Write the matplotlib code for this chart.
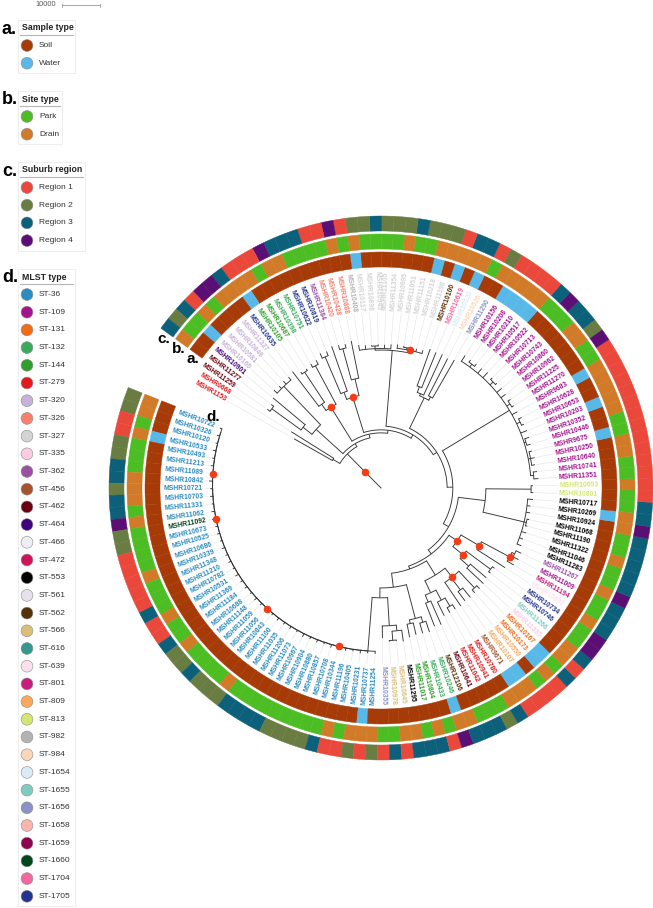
import numpy as np
import matplotlib
matplotlib.use('Agg')
from matplotlib import pyplot as plt
from matplotlib.patches import Rectangle

plt.rcParams['font.family'] = ['Liberation Sans', 'DejaVu Sans']

# tree in newick pieces, branch lengths in thousands of units ('*' = supported node)
# ST-36 clade is a ladder: 42 nested nodes (6 groups of 7 opening brackets)
CLADE_A = ("(((((((" "(((((((" "(((((((" "(((((((" "(((((((" "((((((("
           "MSHR10722:0.6,MSHR10326:0.7):0.04,MSHR10120:0.5):0.04,MSHR10533:0.8):0.04,"
           "MSHR10493:0.6):0.04,MSHR11213:0.7):0.04,MSHR11089:0.5):0.04,MSHR10842:0.9)*:0.04,"
           "MSHR10721:0.6):0.04,MSHR10703:0.7):0.04,MSHR11331:0.5):0.04,MSHR11062:0.8):0.04,"
           "MSHR11092:1.0):0.04,MSHR10673:0.6)*:0.04,MSHR10525:0.7):0.04,MSHR10686:0.5):0.04,"
           "MSHR10339:0.8):0.04,MSHR11348:0.6):0.04,MSHR11210:0.7):0.04,MSHR10782:0.5):0.04,"
           "MSHR10531:0.9):0.04,MSHR11369:0.6):0.04,MSHR11184:0.7):0.04,MSHR10688:0.5):0.04,"
           "MSHR11148:0.8):0.04,MSHR11059:0.6):0.04,MSHR11056:0.7):0.04,MSHR10843:0.5)*:0.04,"
           "MSHR11100:0.8):0.04,MSHR11035:0.6):0.04,MSHR11206:0.7):0.04,MSHR11073:0.5):0.04,"
           "MSHR10967:0.9):0.04,MSHR10904:0.6):0.04,MSHR10880:0.7):0.04,MSHR10857:0.5):0.04,"
           "MSHR10708:0.8):0.04,MSHR10344:0.6):0.04,MSHR11196:0.7)*:0.04,MSHR10405:0.5):0.04,"
           "MSHR10231:0.8):0.04,MSHR10737:0.6):0.04,MSHR11254:0.7):14.1")
CLADE_B = "(MSHR10355:3.2,((MSHR10978:0.3,MSHR10645:0.3):2.4,MSHR11295:3.0):1.5):7.4"
CLADE_C = "((MSHR11017:3.5,MSHR10804:3.2):1.0,(MSHR10433:2.8,MSHR10246:3.0):1.5):9.2"
CLADE_D = ("(((MSHR12106:6.5,MSHR10641:6.8):2.0,(MSHR11042:4.0,(MSHR10941:1.5,MSHR10780:1.4):2.5):3.0):3.5,"
           "(MSHR9671:7.5,(MSHR10107:3.0,MSHR10550:3.2):4.0,(MSHR10173:1.0,MSHR10167:1.1):6.0)*:3.0):4.4")
CLADE_E = ("(((MSHR11335:6.0,MSHR11266:5.5):3.0,(MSHR10746:0.6,MSHR10734:0.7):8.0)*:3.5,"
           "(MSHR10690:8.8,(MSHR11194:2.0,(MSHR11009:1.6,MSHR11267:1.5):0.8)*:8.4)*:5.6)*:2.6")
CLADE_FG = ("((MSHR11283:1.2,MSHR11046:1.0,MSHR11322:1.3,(MSHR11190:0.5,MSHR11068:0.6):0.6,"
            "MSHR10924:1.1,MSHR10269:0.9,MSHR10717:1.4):11.1,(MSHR10801:0.6,MSHR10693:0.5):11.9):7.1")
CLADE_H = ("((MSHR11351:1.2,MSHR10741:1.0):0.8,(MSHR10640:0.9,MSHR10250:1.1,MSHR9675:0.8):0.6,"
           "(MSHR10446:1.0,MSHR10352:1.2):0.5,MSHR10203:1.8,(MSHR10653:0.7,MSHR10628:0.9):1.0,"
           "MSHR9683:1.6,(MSHR11270:0.6,MSHR11225:0.8):1.0,MSHR10962:1.5,MSHR10860:1.7,"
           "(MSHR10743:0.5,MSHR10713:0.6):1.1,MSHR10522:1.9,MSHR10517:1.6,"
           "(MSHR10210:0.8,MSHR10208:0.7):0.9,MSHR10156:1.8):20.6")
CLADE_I = "((MSHR11290:11.5,MSHR10526:11.0):1.0,(MSHR10520:11.8,(MSHR10619:10.0,MSHR10100:10.3):1.6):0.6):8.9"
CLADE_J = ("((MSHR11198:0.9,MSHR10218:0.8,(MSHR11151:0.3,MSHR11051:0.4):0.5,MSHR10995:1.0)*:0.7,"
           "(MSHR11354:1.2,MSHR11105:1.0,(MSHR10945:0.4,MSHR10898:0.3):0.7,MSHR10117:1.1,MSHR10408:1.4):0.4):20.0")
CLADE_K = ("((MSHR10888:10.0,(MSHR10428:1.0,MSHR10420:1.2):8.5):4.5,"
           "(MSHR11384:12.5,(MSHR10819:1.2,MSHR10622:1.4):10.5):2.0)*:9.7")
CLADE_L = "((MSHR10751:1.2,MSHR10398:1.0):11.5,((MSHR10687:0.5,MSHR10105:0.6):9.5,MSHR10635:11.5):2.0)*:10.5"
CLADE_M = ("((MSHR11327:1.0,MSHR10848:1.1,MSHR10581:0.9,MSHR10166:1.2):14.0,"
           "(MSHR10901:11.0,(MSHR11277:0.8,MSHR11259:0.9):9.5):3.0):9.5")
CLADE_OUT = "(MSHR0668:13.2,MSHR1153:11.6):2.1"

# backbone
BB8 = "(" + CLADE_A + "," + CLADE_B + "):2.6"
BB7 = "(" + BB8 + "," + CLADE_C + "):3.7"
BB6 = "(" + BB7 + "," + CLADE_D + "):0.8"
BB5 = "(" + BB6 + "," + CLADE_E + "):1.3"
BB4 = "(" + BB5 + "," + CLADE_FG + "):1.6"
BB3 = "(" + BB4 + "," + CLADE_H + "):1.5"
BB2 = "(" + BB3 + "," + CLADE_I + "):1.1"
BB1 = "(" + BB2 + "," + CLADE_J + "):1.0"
BK = "(" + BB1 + "," + CLADE_K + "):0.8"
BL = "(" + BK + "," + CLADE_L + "):1.0"
N2 = "(" + BL + "," + CLADE_M + "):0.9"
N1 = "(" + N2 + "," + CLADE_OUT + "):6.6"
TREE = "(" + N1 + ")*:6.0;"

# MLST type of every leaf, in tree order
leaf_st = [36, 36, 36, 36, 36, 36, 36, 36, 36, 36,
           36, 36, 1660, 36, 36, 36, 36, 36, 36, 36,
           36, 36, 36, 36, 36, 36, 36, 36, 36, 36,
           36, 36, 36, 36, 36, 36, 36, 36, 36, 36,
           36, 36, 36, 1656, 566, 566, 553, 144, 144, 132,
           132, 562, 462, 279, 279, 279, 456, 809, 809, 131,
           131, 335, 1655, 1705, 1705, 639, 801, 109, 362, 553,
           553, 553, 553, 553, 553, 553, 553, 813, 813, 109,
           109, 109, 109, 109, 109, 109, 109, 109, 109, 109,
           109, 109, 109, 109, 109, 109, 109, 109, 109, 109,
           109, 1656, 984, 1654, 1704, 562, 327, 327, 327, 327,
           327, 327, 327, 327, 327, 327, 982, 326, 326, 326,
           362, 1705, 1705, 132, 132, 144, 144, 1705, 320, 320,
           320, 320, 464, 462, 462, 279, 279]

# ring data (first 134 leaves), S/W sample, P/D site, 1-4 region
sample_code = ("SSSWSSSSSS" "SSSSSSSSSS" "SSSSSSSSSS" "SSSSSSSSSS" "SWSSSSSSSS"
               "WSSSSSWWSW" "WSSSSSSSSS" "SSSSSWSSSS" "SSSWSSWSSW" "SSSSSSSWWW"
               "WSSWSWSWSS" "SSSSSWSSSS" "SSSSSSWSSS" "SWSS")
site_code = ("DDPDPPPDDD" "PDPPPPDPPP" "DPPDPPPPDP" "PPPPPPPPDP" "DDDPPDDPDP"
             "DDPPPDDDPD" "PDDPPDPPDP" "PDPPDDPPDP" "PDDPPDDDDD" "PPDDPPPDDD"
             "DDPDDDDDPP" "DPPPPDPDPP" "PPDDPDDDDP" "DPPD")
region_code = ("2211223323" "3422111113" "1132232223" "3332222311" "2121313331"
               "4333231111" "3134433343" "3333433111" "1111111111" "1423343111"
               "1213312223" "2223221411" "3334111344" "1323")

sample_types = ['Soil', 'Water']
site_types = ['Park', 'Drain']
regions = ['Region 1', 'Region 2', 'Region 3', 'Region 4']
mlst_types = [36, 109, 131, 132, 144, 279, 320, 326, 327, 335, 362, 456, 462, 464, 466,
              472, 553, 561, 562, 566, 616, 639, 801, 809, 813, 982, 984, 1654, 1655,
              1656, 1658, 1659, 1660, 1704, 1705]

sample_colors = ['#a63b07', '#58b9e8']
site_colors = ['#4cbd22', '#d17b28']
region_colors = ['#e9483b', '#697c42', '#0c607a', '#5b0e73']
mlst_colors = ['#2a8cbf', '#a3158f', '#f36c17', '#3aa95e', '#2d9f2a', '#e31a1c', '#c9b2d8',
               '#f9806f', '#d4d4d4', '#fbcce3', '#9a4fa5', '#a5542d', '#6a000f', '#41037d',
               '#eeeef6', '#d01457', '#000000', '#e6e0ef', '#553106', '#dcbd78', '#349890',
               '#fde0ef', '#c71d7e', '#fca75b', '#d3e672', '#b3b3b3', '#fdd6b7', '#dcebf7',
               '#7fccc0', '#8a93c5', '#fbb5af', '#8e0050', '#00461b', '#f4679f', '#24358f']

SCALE_UNITS = 10000
TREE_UNIT = 1000          # newick lengths are in thousands
PX_PER_UNIT = 38 / 10000  # from the scale bar
LEAF_START, LEAF_STEP = 159.6, 2.58
LABEL_R = 178
RINGS = [(221, 15), (239, 15), (257, 15)]
LINE = '#333333'


def parse_newick(text):
    text = ''.join(text.split()).rstrip(';')
    pos = 0

    def node():
        nonlocal pos
        n = {'children': [], 'name': '', 'length': 0.0}
        if text[pos] == '(':
            pos += 1
            while True:
                n['children'].append(node())
                if text[pos] == ',':
                    pos += 1
                    continue
                pos += 1
                break
        start = pos
        while pos < len(text) and text[pos] not in ':,()':
            pos += 1
        n['name'] = text[start:pos]
        if pos < len(text) and text[pos] == ':':
            pos += 1
            start = pos
            while pos < len(text) and text[pos] not in ',()':
                pos += 1
            n['length'] = float(text[start:pos])
        return n

    return node()


tree = parse_newick(TREE)
leaves = []


def layout(n, base):
    n['r'] = (base + n['length'] * TREE_UNIT * PX_PER_UNIT)
    if n['children']:
        for c in n['children']:
            layout(c, n['r'])
        n['theta'] = 0.5 * (n['children'][0]['theta'] + n['children'][-1]['theta'])
    else:
        n['theta'] = LEAF_START + LEAF_STEP * len(leaves)
        leaves.append(n)


layout(tree, 0.0)

fig = plt.figure(figsize=(6.53, 9.08), dpi=100)
bg = fig.add_axes([0, 0, 1, 1])
bg.set_xlim(0, 653)
bg.set_ylim(908, 0)
bg.axis('off')

CX, CY, RMAX = 381, 488, 276
ax = fig.add_axes([(CX - RMAX) / 653, (908 - CY - RMAX) / 908, 2 * RMAX / 653, 2 * RMAX / 908],
                  projection='polar')
ax.set_ylim(0, RMAX)
ax.set_axis_off()

dots = []


def draw(n):
    for c in n['children']:
        t = np.radians(c['theta'])
        ax.plot([t, t], [n['r'], c['r']], color=LINE, lw=0.65, solid_capstyle='butt')
        draw(c)
    if len(n['children']) > 1:
        arc = np.radians(np.linspace(n['children'][0]['theta'], n['children'][-1]['theta'], 90))
        ax.plot(arc, np.full(arc.size, n['r']), color=LINE, lw=0.65)
    if n['name'] == '*':
        dots.append((np.radians(n['theta']), n['r']))


t0 = np.radians(tree['theta'])
ax.plot([t0, t0], [0, tree['r']], color=LINE, lw=0.65)
draw(tree)
ax.scatter([d[0] for d in dots], [d[1] for d in dots], s=30, color='#f53c12', zorder=5, linewidths=0)

# aligned leaf labels
for i, leaf in enumerate(leaves):
    t = np.radians(leaf['theta'])
    ax.plot([t, t], [leaf['r'] + 1, LABEL_R - 2], color='#e4e4e4', lw=0.4, zorder=0)
    deg = leaf['theta'] % 360
    if 90 < deg < 270:
        rot, ha = deg - 180, 'right'
    else:
        rot, ha = (deg if deg <= 90 else deg - 360), 'left'
    col = mlst_colors[mlst_types.index(leaf_st[i])]
    ax.text(t, LABEL_R, leaf['name'], rotation=rot, rotation_mode='anchor', ha=ha, va='center',
            fontsize=4.9, fontweight='bold', color=col)

# metadata rings
n_ring = len(sample_code)
ring_theta = np.radians([leaves[i]['theta'] for i in range(n_ring)])
width = np.radians(LEAF_STEP)
ring_cols = [
    [sample_colors['SW'.index(c)] for c in sample_code],
    [site_colors['PD'.index(c)] for c in site_code],
    [region_colors[int(c) - 1] for c in region_code],
]
for (r0, h), cols in zip(RINGS, ring_cols):
    ax.bar(ring_theta, h, width=width, bottom=r0, color=cols, edgecolor=cols, linewidth=0.3)

end = np.radians(leaves[n_ring - 1]['theta'] + LEAF_STEP * 1.1)
for letter, (r0, h) in zip(['a.', 'b.', 'c.'], RINGS):
    ax.text(end, r0 + h / 2 - 1, letter, fontsize=11, fontweight='bold', ha='center', va='center')
ax.text(np.radians(LEAF_START - 2.6), LABEL_R + 4, 'd.', fontsize=11, fontweight='bold',
        ha='center', va='center')

# scale bar
bar_px = SCALE_UNITS * PX_PER_UNIT
bg.plot([62, 62 + bar_px], [5, 5], color='#9a9a9a', lw=0.6)
bg.plot([62, 62], [3.5, 6.5], color='#9a9a9a', lw=0.6)
bg.plot([62 + bar_px, 62 + bar_px], [3.5, 6.5], color='#9a9a9a', lw=0.6)
bg.text(56, 5, str(SCALE_UNITS), fontsize=5.3, color='#555555', ha='right', va='center')


def legend_block(letter, title, names, colors, y0, box_w):
    bg.text(2, y0 + 1, letter, fontsize=13, fontweight='bold', ha='left', va='center')
    bg.text(22, y0, title, fontsize=6.3, fontweight='bold', color='#222222', ha='left', va='center')
    bg.plot([20, 16 + box_w], [y0 + 6.5, y0 + 6.5], color='#b5b5b5', lw=0.8)
    ys = y0 + 17.5 + 17.7 * np.arange(len(names))
    bg.scatter(np.full(len(names), 27), ys, s=72, c=colors, edgecolors='#8c8c8c',
               linewidths=0.4, zorder=3)
    for y, name in zip(ys, names):
        bg.text(39, y, name, fontsize=6, color='#333333', ha='left', va='center')
    bg.add_patch(Rectangle((18, y0 - 8.5), box_w, ys[-1] + 10 - (y0 - 8.5), fill=False,
                           edgecolor='#ebebeb', lw=0.6))


legend_block('a.', 'Sample type', sample_types, sample_colors, 28, 57)
legend_block('b.', 'Site type', site_types, site_colors, 99, 44)
legend_block('c.', 'Suburb region', regions, region_colors, 170, 67)
legend_block('d.', 'MLST type', ['ST-%d' % s for s in mlst_types], mlst_colors, 277, 57)

plt.savefig('out.png', dpi=100)
plt.close(fig)
